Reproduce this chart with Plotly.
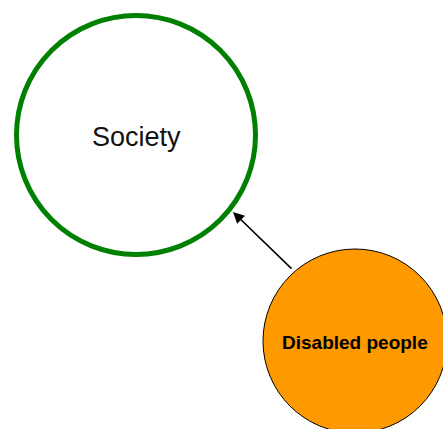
import plotly.graph_objects as go

# Diagram content
node_labels = ["Society", "Disabled people"]
node_cx = [136, 355]
node_cy = [135, 341]
node_r = [119.5, 92]
# arrow from node 1 towards node 0
arrow_from = [293, 270]
arrow_to = [233, 212]

W, H = 443, 429
fig = go.Figure()

fig.add_shape(type="circle", xref="x", yref="y",
              x0=node_cx[0] - node_r[0], x1=node_cx[0] + node_r[0],
              y0=node_cy[0] - node_r[0], y1=node_cy[0] + node_r[0],
              line=dict(color="#008000", width=5), fillcolor="rgba(0,0,0,0)")
fig.add_shape(type="circle", xref="x", yref="y",
              x0=node_cx[1] - node_r[1], x1=node_cx[1] + node_r[1],
              y0=node_cy[1] - node_r[1], y1=node_cy[1] + node_r[1],
              line=dict(color="#000000", width=1), fillcolor="#FF9900")

fig.add_annotation(x=node_cx[0], y=node_cy[0] + 2, text=node_labels[0], showarrow=False,
                   font=dict(family="Liberation Sans", size=27, color="#111111"))
fig.add_annotation(x=node_cx[1], y=node_cy[1] + 1, text="<b>" + node_labels[1] + "</b>",
                   showarrow=False,
                   font=dict(family="Liberation Sans", size=19, color="#000000"))

fig.add_annotation(x=arrow_to[0], y=arrow_to[1], ax=arrow_from[0], ay=arrow_from[1],
                   xref="x", yref="y", axref="x", ayref="y", text="",
                   showarrow=True, arrowhead=2, arrowsize=1.4, arrowwidth=1.6,
                   arrowcolor="#000000")

fig.update_xaxes(range=[0, W], visible=False, fixedrange=True)
fig.update_yaxes(range=[H, 0], visible=False, fixedrange=True)
fig.update_layout(width=W, height=H, margin=dict(l=0, r=0, t=0, b=0),
                  plot_bgcolor="white", paper_bgcolor="white", showlegend=False)

fig.write_html("out.html", post_script="document.body.style.margin='0';",
               config={"displayModeBar": False})
